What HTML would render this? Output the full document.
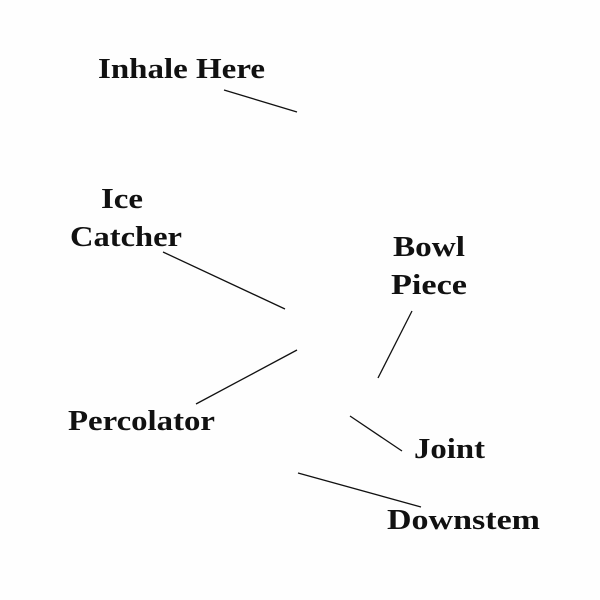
<!DOCTYPE html>
<html><head><meta charset="utf-8"><style>html,body{margin:0;padding:0;background:#fff}svg{display:block}</style></head>
<body>
<svg width="600" height="600" viewBox="0 0 600 600" xmlns="http://www.w3.org/2000/svg">
<rect width="600" height="600" fill="#fefefe"/>
<g font-family="Liberation Serif, serif" font-weight="bold" font-size="29" fill="#111">
<text x="98" y="78" textLength="167" lengthAdjust="spacingAndGlyphs">Inhale Here</text>
<text x="101" y="208" textLength="42" lengthAdjust="spacingAndGlyphs">Ice</text>
<text x="70" y="246" textLength="112" lengthAdjust="spacingAndGlyphs">Catcher</text>
<text x="393" y="256" textLength="72" lengthAdjust="spacingAndGlyphs">Bowl</text>
<text x="391" y="294" textLength="76" lengthAdjust="spacingAndGlyphs">Piece</text>
<text x="68" y="430" textLength="147" lengthAdjust="spacingAndGlyphs">Percolator</text>
<text x="414" y="458" textLength="71" lengthAdjust="spacingAndGlyphs">Joint</text>
<text x="387" y="529" textLength="153" lengthAdjust="spacingAndGlyphs">Downstem</text>
</g>
<g stroke="#111" stroke-width="1.3">
<line x1="224" y1="90" x2="297" y2="112"/>
<line x1="163" y1="252" x2="285" y2="309"/>
<line x1="412" y1="311" x2="378" y2="378"/>
<line x1="196" y1="404" x2="297" y2="350"/>
<line x1="350" y1="416" x2="402" y2="451"/>
<line x1="298" y1="473" x2="421" y2="507"/>
</g>
</svg>
</body></html>
